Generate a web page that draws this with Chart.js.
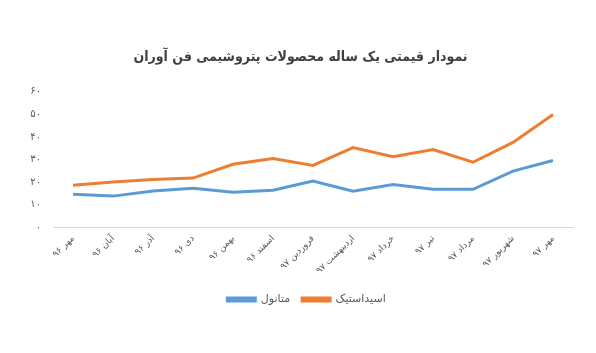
<!DOCTYPE html>
<html>
<head>
<meta charset="utf-8">
<script src="https://cdn.jsdelivr.net/npm/chart.js@4"></script>
<style>
  html, body { margin: 0; padding: 0; background: #fff; }
  #wrap { width: 596px; height: 353px; position: relative; }
</style>
</head>
<body>
<div id="wrap"><canvas id="mainChart"></canvas></div>
<script>
  const months = ['مهر ۹۶', 'آبان ۹۶', 'آذر ۹۶', 'دی ۹۶', 'بهمن ۹۶', 'اسفند ۹۶', 'فروردین ۹۷',
    'اردیبهشت ۹۷', 'خرداد ۹۷', 'تیر ۹۷', 'مرداد ۹۷', 'شهریور ۹۷', 'مهر ۹۷'];
  const methanol = [14.6, 13.8, 16.1, 17.3, 15.5, 16.4, 20.5, 16.0, 18.9, 16.8, 16.8, 24.9, 29.6];
  const aceticAcid = [18.6, 20.0, 21.2, 21.8, 27.9, 30.4, 27.4, 35.3, 31.3, 34.4, 28.8, 37.6, 49.9];
  const yTicks = [0, 10, 20, 30, 40, 50, 60];
  const yTickLabels = ['۰', '۱۰', '۲۰', '۳۰', '۴۰', '۵۰', '۶۰'];

  const fontFamily = "'DejaVu Sans', sans-serif";
  const condensed = "'DejaVu Sans Condensed', 'DejaVu Sans', sans-serif";
  const textColor = '#595959';

  // nudge legend and title right so they sit where the original ones do
  const boxShift = {
    id: 'boxShift',
    afterLayout(chart) {
      const l = chart.legend;
      l.left += 20;
      l.right += 20;
      const t = chart.titleBlock;
      t.left += 14;
      t.right += 14;
    }
  };

  const ctx = document.getElementById('mainChart').getContext('2d');
  const chart = new Chart(ctx, {
    type: 'line',
    data: {
      labels: months,
      datasets: [{
        label: 'متانول',
        data: methanol,
        borderColor: '#5B9BD5',
        backgroundColor: '#5B9BD5',
        borderWidth: 3,
        pointRadius: 0,
        tension: 0
      }, {
        label: 'اسیداستیک',
        data: aceticAcid,
        borderColor: '#ED7D31',
        backgroundColor: '#ED7D31',
        borderWidth: 3,
        pointRadius: 0,
        tension: 0
      }]
    },
    plugins: [boxShift],
    options: {
      responsive: true,
      maintainAspectRatio: false,
      animation: false,
      layout: { padding: { left: 0, right: 23, top: 49, bottom: 38 } },
      plugins: {
        title: {
          display: true,
          text: 'نمودار قیمتی یک ساله محصولات پتروشیمی فن آوران',
          color: '#404040',
          font: { family: condensed, size: 14, weight: 'bold' },
          padding: { top: 0, bottom: 26 }
        },
        legend: {
          position: 'bottom',
          labels: {
            color: textColor,
            font: { family: fontFamily, size: 11 },
            boxWidth: 28,
            boxHeight: 3,
            padding: 12
          }
        },
        tooltip: { enabled: false }
      },
      scales: {
        x: {
          offset: true,
          grid: { display: false, drawTicks: false },
          border: { display: true, color: '#D9D9D9', width: 1 },
          ticks: {
            color: textColor,
            font: { family: fontFamily, size: 9 },
            minRotation: 45,
            maxRotation: 45,
            autoSkip: false,
            padding: 6
          }
        },
        y: {
          min: 0,
          max: 60,
          afterBuildTicks: (scale) => { scale.ticks = yTicks.map(v => ({ value: v })); },
          afterFit: (scale) => { scale.width = 53; },
          grid: { display: false, drawTicks: false },
          border: { display: false },
          ticks: {
            color: textColor,
            font: { family: fontFamily, size: 10 },
            padding: 12,
            callback: (value) => yTickLabels[yTicks.indexOf(value)]
          }
        }
      }
    }
  });
</script>
</body>
</html>
